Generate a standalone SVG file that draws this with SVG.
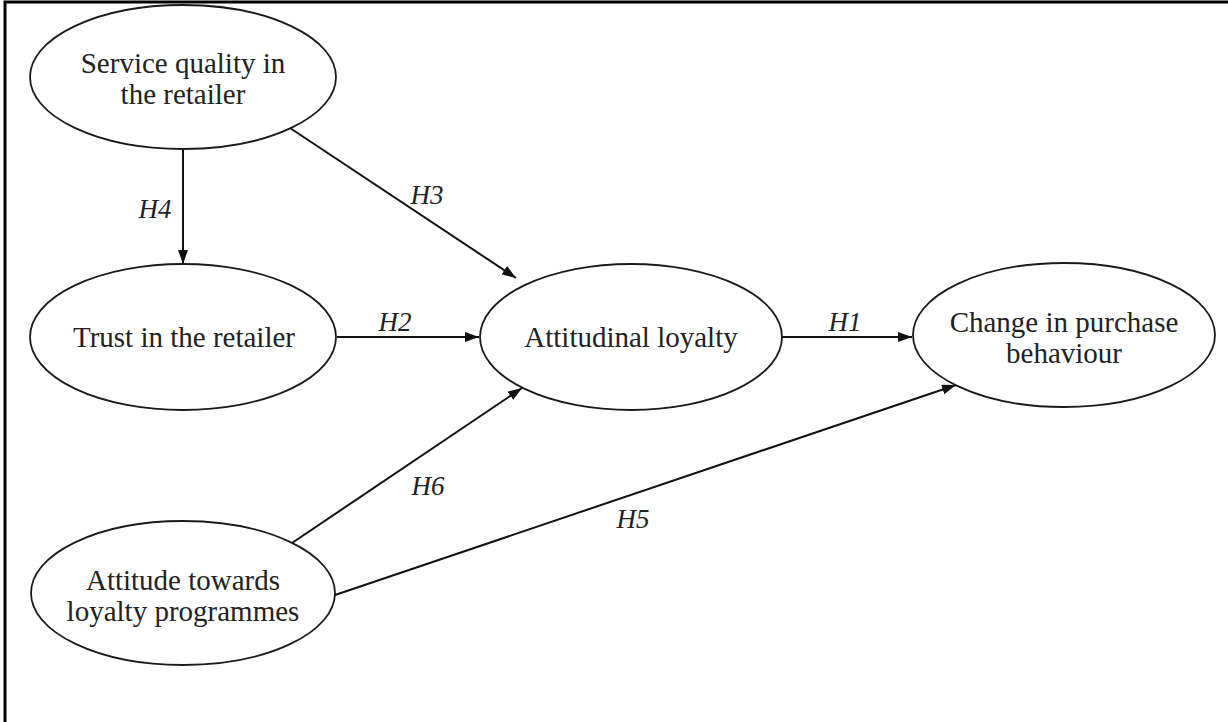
<svg xmlns="http://www.w3.org/2000/svg" width="1228" height="722" viewBox="0 0 1228 722">
  <style>
    .node ellipse { fill: #ffffff; stroke: #1a1a1a; stroke-width: 1.8; }
    .node text { font-family: "Liberation Serif", "Times New Roman", serif; font-size: 29px; fill: #222; text-anchor: middle; }
    .edge line { stroke: #111; stroke-width: 2; fill: none; marker-end: url(#arrow); }
    .lbl { font-family: "Liberation Serif", "Times New Roman", serif; font-size: 27px; font-style: italic; fill: #222; text-anchor: middle; }
    .frame { stroke: #000; stroke-width: 3; fill: none; }
  </style>
  <defs>
    <marker id="arrow" viewBox="0 0 14 10" refX="14" refY="5" markerWidth="14" markerHeight="10" markerUnits="userSpaceOnUse" orient="auto">
      <path d="M0,0 L14,5 L0,10 Z" fill="#111"/>
    </marker>
  </defs>

  <rect width="1228" height="722" fill="#ffffff"/>
  <!-- outer frame: top and left rules -->
  <path class="frame" d="M5,722 L5,2 L1228,2"/>

  <!-- connectors -->
  <g id="connectors" class="edge">
    <line x1="183" y1="150" x2="183" y2="264"/>
    <line x1="290" y1="128" x2="516" y2="278"/>
    <line x1="337" y1="337" x2="479" y2="337"/>
    <line x1="782" y1="337" x2="912" y2="337"/>
    <line x1="292" y1="543" x2="522" y2="388"/>
    <line x1="335" y1="595" x2="956" y2="385"/>
  </g>

  <g id="labels">
    <text class="lbl" x="155" y="218">H4</text>
    <text class="lbl" x="427" y="204">H3</text>
    <text class="lbl" x="395" y="331">H2</text>
    <text class="lbl" x="845" y="331">H1</text>
    <text class="lbl" x="428" y="495">H6</text>
    <text class="lbl" x="633" y="528">H5</text>
  </g>

  <g id="service-quality" class="node">
    <ellipse cx="183" cy="77" rx="153" ry="72"/>
    <text x="183" y="73">Service quality in</text>
    <text x="183" y="104">the retailer</text>
  </g>

  <g id="trust" class="node">
    <ellipse cx="183" cy="337" rx="153" ry="73"/>
    <text x="184" y="347">Trust in the retailer</text>
  </g>

  <g id="attitudinal-loyalty" class="node">
    <ellipse cx="631" cy="337" rx="151" ry="73"/>
    <text x="631" y="347">Attitudinal loyalty</text>
  </g>

  <g id="purchase-behaviour" class="node">
    <ellipse cx="1064" cy="335" rx="151" ry="72"/>
    <text x="1064" y="332">Change in purchase</text>
    <text x="1064" y="363">behaviour</text>
  </g>

  <g id="programme-attitude" class="node">
    <ellipse cx="183" cy="593" rx="152" ry="72"/>
    <text x="183" y="590">Attitude towards</text>
    <text x="183" y="621">loyalty programmes</text>
  </g>
</svg>
